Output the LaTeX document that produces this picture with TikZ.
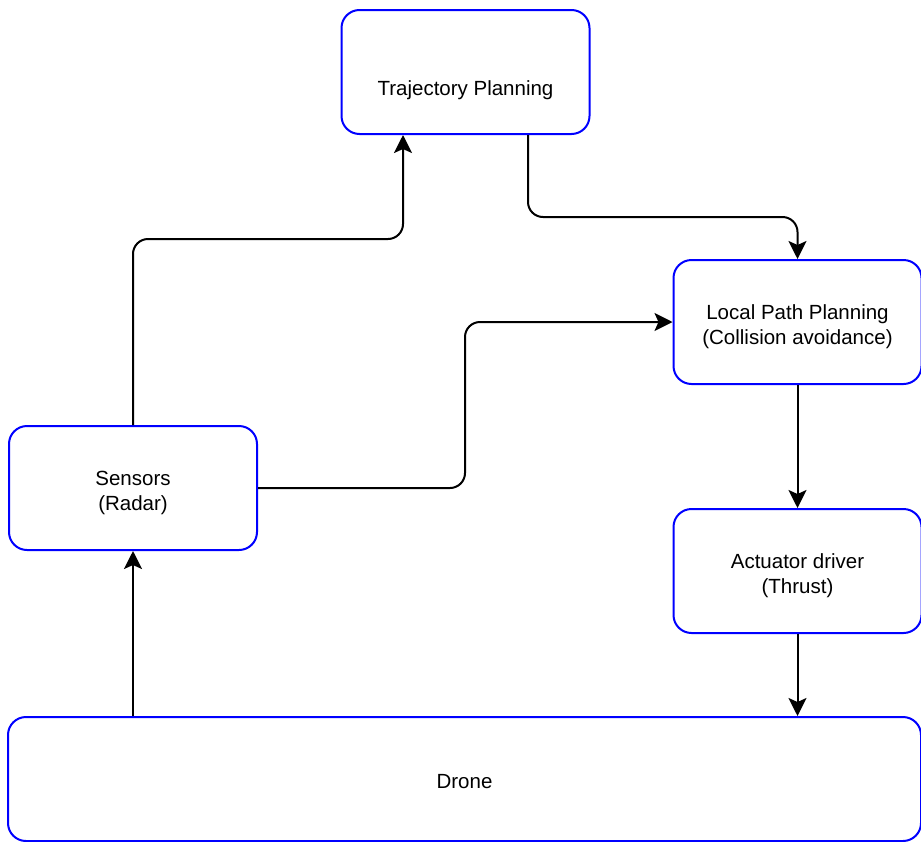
\documentclass[tikz,border=0pt]{standalone}
\usepackage{fontspec}
\setmainfont{Liberation Sans}
\usetikzlibrary{arrows.meta}
\newcommand\boxtext[2][5pt]{\raisebox{-#1}[\height][\depth]{\begin{tabular}{@{}c@{}}#2\end{tabular}}} % Text of a box, set a bit low

\begin{document}
\begin{tikzpicture}[x=1pt,y=-1pt]
\definecolor{linecolor}{RGB}{0,0,255} % Definition of the box line color
\definecolor{fillcolor}{RGB}{255,255,255} % Definition of the box fill color
\tikzset{block/.style={draw=linecolor,fill=fillcolor,line width=2pt,rounded corners=18pt,minimum width=248pt,minimum height=124pt,inner sep=0pt,font=\fontsize{20.5}{24.5}\selectfont},
  link/.style={draw=black,line width=2pt,rounded corners=15pt,-{Stealth[length=18pt,width=18pt,inset=4pt]}}}
\useasboundingbox (0,0) rectangle (921,841); % Picture frame of 921 x 841
\node[block] (traj) at (465.5,72) {\boxtext[19pt]{Trajectory Planning}}; % Box at the top
\node[block] (local) at (797.5,322) {\boxtext{Local Path Planning\\(Collision avoidance)}}; % Box on the right
\node[block] (sens) at (133,488) {\boxtext{Sensors\\(Radar)}}; % Box on the left
\node[block] (act) at (797.5,571) {\boxtext{Actuator driver\\(Thrust)}}; % Box under local planning
\node[block,minimum width=913pt] (drone) at (464.5,779) {\boxtext{Drone}}; % Wide box at the bottom
\coordinate (upbend) at (403,239); % Bend of the sensors -> trajectory line
\coordinate (downbend) at (528,217); % Bend of the trajectory -> local line
\coordinate (midbend) at (465,400); % Bend of the sensors -> local line
\draw[link] (sens.north) |- (upbend) -- (upbend |- traj.south); % Sensors to trajectory planning
\draw[link] (downbend |- traj.south) -- (downbend) -| (local.north); % Trajectory planning to local planning
\draw[link] (sens.east) -- (sens.east -| midbend) |- (local.west); % Sensors to local planning
\draw[link] (local.south) -- (act.north); % Local planning to actuator driver
\draw[link] (act.south) -- (act.south |- drone.north); % Actuator driver to drone
\draw[link] (drone.north -| sens.south) -- (sens.south); % Drone to sensors
\end{tikzpicture}
\end{document}
